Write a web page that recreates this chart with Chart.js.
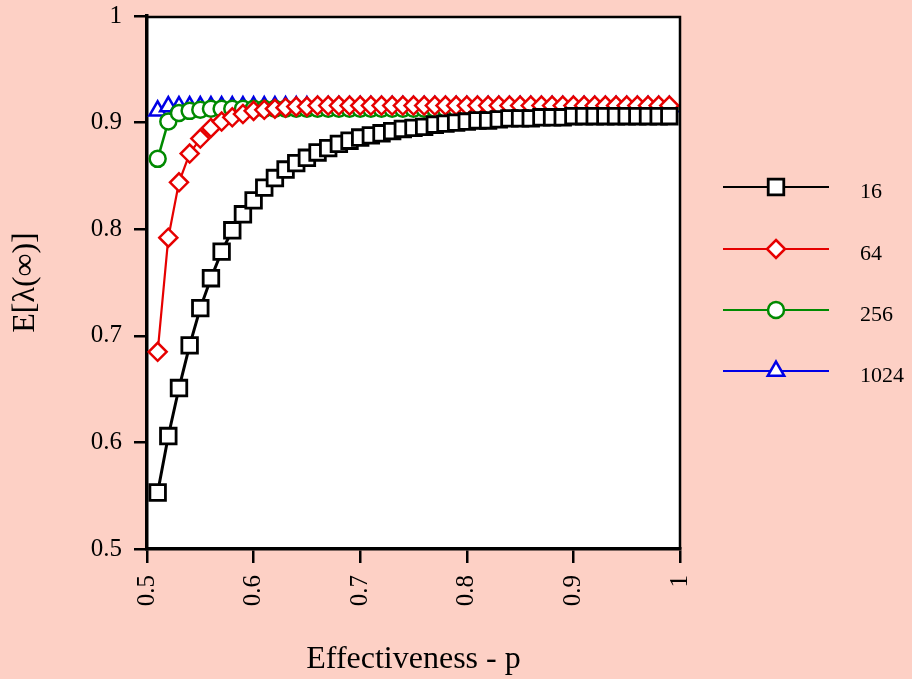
<!DOCTYPE html>
<html>
<head>
<meta charset="utf-8">
<script src="https://cdn.jsdelivr.net/npm/chart.js@4.4.1/dist/chart.umd.min.js"></script>
<style>
    html, body { margin: 0; padding: 0; background: #fdd0c5; }
    canvas { display: block; }
</style>
</head>
<body>
<canvas id="chart" width="912" height="679"></canvas>
<script>
// E[lambda(inf)] vs effectiveness p, four population sizes

const pValues = [
    0.51, 0.52, 0.53, 0.54, 0.55, 0.56, 0.57, 0.58, 0.59, 0.60,
    0.61, 0.62, 0.63, 0.64, 0.65, 0.66, 0.67, 0.68, 0.69, 0.70,
    0.71, 0.72, 0.73, 0.74, 0.75, 0.76, 0.77, 0.78, 0.79, 0.80,
    0.81, 0.82, 0.83, 0.84, 0.85, 0.86, 0.87, 0.88, 0.89, 0.90,
    0.91, 0.92, 0.93, 0.94, 0.95, 0.96, 0.97, 0.98, 0.99
];

const series16 = [
    0.553, 0.606, 0.651, 0.691, 0.726, 0.754, 0.779, 0.799, 0.814, 0.827,
    0.839, 0.848, 0.856, 0.862, 0.867, 0.872, 0.876, 0.880, 0.883, 0.886,
    0.888, 0.890, 0.892, 0.894, 0.895, 0.896, 0.898, 0.899, 0.900, 0.901,
    0.902, 0.902, 0.903, 0.904, 0.904, 0.904, 0.905, 0.905, 0.905, 0.906,
    0.906, 0.906, 0.906, 0.906, 0.906, 0.906, 0.906, 0.906, 0.906
];

const series64 = [
    0.685, 0.792, 0.844, 0.871, 0.885, 0.895, 0.901, 0.905, 0.908, 0.911,
    0.912, 0.913, 0.914, 0.915, 0.915, 0.916, 0.916, 0.916, 0.916, 0.916,
    0.916, 0.916, 0.916, 0.916, 0.916, 0.916, 0.916, 0.916, 0.916, 0.916,
    0.916, 0.916, 0.916, 0.916, 0.916, 0.916, 0.916, 0.916, 0.916, 0.916,
    0.916, 0.916, 0.916, 0.916, 0.916, 0.916, 0.916, 0.916, 0.916
];

const series256 = [
    0.866, 0.901, 0.909, 0.911, 0.912, 0.913, 0.913, 0.913, 0.913, 0.913,
    0.913, 0.913, 0.913, 0.913, 0.913, 0.913, 0.913, 0.913, 0.913, 0.913,
    0.913, 0.913, 0.913, 0.913, 0.913, 0.913, 0.913, 0.913, 0.913, 0.913,
    0.913, 0.913, 0.913, 0.913, 0.913, 0.913, 0.913, 0.913, 0.913, 0.913,
    0.913, 0.913, 0.913, 0.913, 0.913, 0.913, 0.913, 0.913, 0.913
];

const series1024 = [
    0.911, 0.915, 0.915, 0.915, 0.915, 0.915, 0.915, 0.915, 0.915, 0.915,
    0.915, 0.915, 0.915, 0.915, 0.915, 0.915, 0.915, 0.915, 0.915, 0.915,
    0.915, 0.915, 0.915, 0.915, 0.915, 0.915, 0.915, 0.915, 0.915, 0.915,
    0.915, 0.915, 0.915, 0.915, 0.915, 0.915, 0.915, 0.915, 0.915, 0.915,
    0.915, 0.915, 0.915, 0.915, 0.915, 0.915, 0.915, 0.915, 0.915
];

const seriesNames = ['16', '64', '256', '1024'];

const xTickValues = [0.5, 0.6, 0.7, 0.8, 0.9, 1];
const xTickLabels = ['0.5', '0.6', '0.7', '0.8', '0.9', '1'];
const yTickValues = [0.5, 0.6, 0.7, 0.8, 0.9, 1];
const yTickLabels = ['0.5', '0.6', '0.7', '0.8', '0.9', '1'];

const FONT = "'Liberation Serif', 'Times New Roman', serif";

function toPoints(values) {
    return pValues.map((p, i) => ({ x: p, y: values[i] }));
}

function makeDataset(name, values, color, style, radius, lineWidth, markerWidth) {
    return {
        label: name,
        data: toPoints(values),
        borderColor: color,
        borderWidth: lineWidth,
        backgroundColor: '#ffffff',
        pointStyle: style,
        pointRadius: radius,
        pointBorderWidth: markerWidth,
        pointBorderColor: color,
        pointBackgroundColor: '#ffffff',
        pointHoverRadius: radius,
        tension: 0,
        fill: false
    };
}

// dataset 0 is drawn last, so 16 ends up on top
const datasets = [
    makeDataset(seriesNames[0], series16, '#000000', 'rect', 11, 3, 2.8),
    makeDataset(seriesNames[1], series64, '#e60000', 'rectRot', 9, 2.2, 2.5),
    makeDataset(seriesNames[2], series256, '#008a00', 'circle', 8, 2.5, 2.5),
    makeDataset(seriesNames[3], series1024, '#0000e6', 'triangle', 9.5, 2.5, 2.5)
];

function drawMarker(ctx, style, x, y, r) {
    ctx.beginPath();
    if (style === 'rect') {
        const s = r * Math.SQRT1_2;
        ctx.rect(x - s, y - s, 2 * s, 2 * s);
    } else if (style === 'rectRot') {
        ctx.moveTo(x, y - r);
        ctx.lineTo(x + r, y);
        ctx.lineTo(x, y + r);
        ctx.lineTo(x - r, y);
        ctx.closePath();
    } else if (style === 'circle') {
        ctx.arc(x, y, r, 0, Math.PI * 2);
    } else if (style === 'triangle') {
        ctx.moveTo(x, y - r);
        ctx.lineTo(x + Math.sin(2 * Math.PI / 3) * r, y + r / 2);
        ctx.lineTo(x - Math.sin(2 * Math.PI / 3) * r, y + r / 2);
        ctx.closePath();
    }
    ctx.fill();
    ctx.stroke();
}

// white plot box on pink page, frame lines on top and right
const frame = {
    id: 'frame',
    beforeDraw(chart) {
        const { ctx, chartArea: a } = chart;
        ctx.save();
        ctx.fillStyle = '#fdd0c5';
        ctx.fillRect(0, 0, chart.width, chart.height);
        ctx.fillStyle = '#ffffff';
        ctx.fillRect(a.left, a.top, a.right - a.left, a.bottom - a.top);
        ctx.restore();
    },
    afterDraw(chart) {
        const { ctx, chartArea: a } = chart;
        ctx.save();
        ctx.strokeStyle = '#000000';
        ctx.lineWidth = 2.5;
        ctx.beginPath();
        ctx.moveTo(a.left, a.top + 1);
        ctx.lineTo(a.right, a.top + 1);
        ctx.lineTo(a.right, a.bottom);
        ctx.stroke();
        ctx.restore();
    }
};

// legend at the right: short line, marker in the middle, label after
const sideLegend = {
    id: 'sideLegend',
    afterDraw(chart) {
        const ctx = chart.ctx;
        const rows = [187, 249, 310, 371];
        const x0 = 723, x1 = 829, xm = 776, xt = 860;
        ctx.save();
        chart.data.datasets.forEach((ds, i) => {
            const y = rows[i];
            ctx.strokeStyle = ds.borderColor;
            ctx.lineWidth = 2.2;
            ctx.beginPath();
            ctx.moveTo(x0, y);
            ctx.lineTo(x1, y);
            ctx.stroke();
            ctx.fillStyle = '#ffffff';
            ctx.lineWidth = ds.pointBorderWidth;
            drawMarker(ctx, ds.pointStyle, xm, y, ds.pointRadius);
            ctx.fillStyle = '#000000';
            ctx.font = '22px ' + FONT;
            ctx.textAlign = 'left';
            ctx.textBaseline = 'alphabetic';
            ctx.fillText(ds.label, xt, y + 11);
        });
        ctx.restore();
    }
};

const ctx = document.getElementById('chart').getContext('2d');
const chart = new Chart(ctx, {
    type: 'line',
    data: { datasets: datasets },
    options: {
        responsive: false,
        animation: false,
        devicePixelRatio: 1,
        layout: {
            padding: { top: 16, right: 232, left: 0, bottom: 0 }
        },
        plugins: {
            legend: { display: false },
            tooltip: { enabled: false }
        },
        scales: {
            x: {
                type: 'linear',
                min: 0.5,
                max: 1,
                afterBuildTicks: scale => {
                    scale.ticks = xTickValues.map(v => ({ value: v }));
                },
                afterFit: scale => { scale.height = 130; },
                ticks: {
                    callback: value => xTickLabels[xTickValues.indexOf(value)],
                    minRotation: 90,
                    maxRotation: 90,
                    color: '#000000',
                    padding: 12,
                    font: { family: FONT, size: 25 }
                },
                grid: {
                    drawOnChartArea: false,
                    drawTicks: true,
                    tickLength: 14,
                    color: '#000000',
                    lineWidth: 2.5
                },
                border: { display: true, color: '#000000', width: 3.5 },
                title: {
                    display: true,
                    text: 'Effectiveness - p',
                    color: '#000000',
                    font: { family: FONT, size: 32 },
                    padding: { top: 0, bottom: 0 }
                }
            },
            y: {
                type: 'linear',
                min: 0.5,
                max: 1,
                afterBuildTicks: scale => {
                    scale.ticks = yTickValues.map(v => ({ value: v }));
                },
                afterFit: scale => {
                    scale.width = 147;
                    // keep the label overhang from pushing the plot box down
                    scale.paddingTop = 0;
                    scale.paddingBottom = 0;
                },
                ticks: {
                    callback: value => yTickLabels[yTickValues.indexOf(value)],
                    color: '#000000',
                    padding: 12,
                    font: { family: FONT, size: 25 }
                },
                grid: {
                    drawOnChartArea: false,
                    drawTicks: true,
                    tickLength: 13,
                    color: '#000000',
                    lineWidth: 2.5
                },
                border: { display: true, color: '#000000', width: 3.5 },
                title: {
                    display: true,
                    text: 'E[λ(∞)]',
                    color: '#000000',
                    font: { family: FONT, size: 32 },
                    padding: { top: 6, bottom: 0 }
                }
            }
        }
    },
    plugins: [frame, sideLegend]
});
</script>
</body>
</html>
